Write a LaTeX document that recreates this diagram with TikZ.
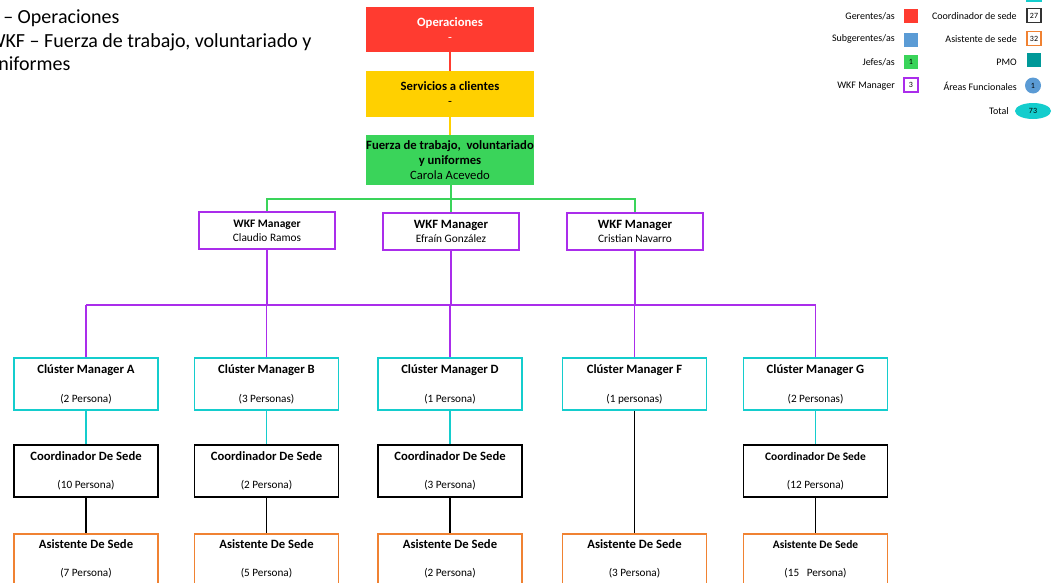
\documentclass[tikz,border=0pt]{standalone}
\usepackage{fontspec}
\setmainfont{Carlito}
\usetikzlibrary{positioning,
        shapes.geometric}
\definecolor{opsred}{RGB}{255,59,48}
\definecolor{svcyellow}{RGB}{255,208,0}
\definecolor{wkfgreen}{RGB}{58,212,90}
\definecolor{mgrpurple}{RGB}{170,45,235}
\definecolor{clcyan}{RGB}{20,205,205}
\definecolor{asorange}{RGB}{240,130,50}
\definecolor{subblue}{RGB}{91,155,213}
\definecolor{pmoteal}{RGB}{0,153,153}
\newcommand{\boxtitle}[1]{{\fontsize{9.5}{11}\selectfont\bfseries #1}}
\newcommand{\smalltitle}[1]{{\fontsize{8.6}{11}\selectfont\bfseries #1}}

\begin{document}
\begin{tikzpicture}[x=0.75pt, y=-0.75pt,
    topbox/.style={rectangle, minimum width=126pt, inner xsep=0pt, align=center, font=\fontsize{9.5}{11.25}\selectfont\bfseries},
    mgrbox/.style={rectangle, draw=mgrpurple, line width=1.1pt, fill=white, minimum width=102pt, minimum height=28pt, align=center, font=\fontsize{8.5}{10.5}\selectfont},
    unitbox/.style={rectangle, line width=1.1pt, fill=white, minimum width=108pt, minimum height=39pt, align=center, font=\fontsize{8.4}{11}\selectfont},
    clusterbox/.style={unitbox, draw=clcyan},
    coordbox/.style={unitbox, draw=black},
    asistbox/.style={unitbox, draw=asorange, minimum height=37.5pt},
    link/.style={line width=1.1pt},
    note/.style={anchor=base west, inner sep=0pt, font=\fontsize{15}{17.5}\selectfont},
    legtext/.style={anchor=east, inner sep=0pt, font=\fontsize{7.5}{9}\selectfont},
    legbox/.style={rectangle, minimum size=10.5pt, inner sep=0pt, line width=0.9pt, font=\fontsize{6}{7}\selectfont}]
    \useasboundingbox (0,0) rectangle (1052,582);
    \clip (0,0) rectangle (1052,582);

    % notes top left
    \node [note] (noteOps) at (3,23) {– Operaciones};
    \node [note] (noteWkf) at (-12.5,47) {WKF – Fuerza de trabajo, voluntariado y};
    \node [note] (noteUni) at (-12.5,70) {uniformes};

    % top of the chart
    \node [topbox, fill=opsred, text=white, minimum height=34pt] (ops) at (450,29.5) {Operaciones\\{\mdseries -}};
    \node [topbox, fill=svcyellow, minimum height=34.5pt] (svc) at (450,94) {Servicios a clientes\\{\mdseries -}};
    \node [topbox, fill=wkfgreen, minimum height=37.5pt] (wkf) at (450,160) {Fuerza de trabajo,~ voluntariado\\y uniformes\\{\mdseries Carola Acevedo}};

    % WKF managers
    \node [mgrbox] (ramos) at (267,230.5) {\smalltitle{WKF Manager}\\Claudio Ramos};
    \node [mgrbox] (gonzalez) at (451,231.5) {\boxtitle{WKF Manager}\\Efraín González};
    \node [mgrbox] (navarro) at (635,231.5) {\boxtitle{WKF Manager}\\Cristian Navarro};

    % cluster managers
    \node [clusterbox] (clA) at (86,384) {\boxtitle{Clúster Manager A}\\[10.75pt](2 Persona)};
    \node [clusterbox] (clB) at (266.5,384) {\boxtitle{Clúster Manager B}\\[10.75pt](3 Personas)};
    \node [clusterbox] (clD) at (450,384) {\boxtitle{Clúster Manager D}\\[10.75pt](1 Persona)};
    \node [clusterbox] (clF) at (634.5,384) {\boxtitle{Clúster Manager F}\\[10.75pt](1 personas)};
    \node [clusterbox] (clG) at (815.5,384) {\boxtitle{Clúster Manager G}\\[10.75pt](2 Personas)};

    % coordinators
    \node [coordbox] (coA) at (86,471) {\boxtitle{Coordinador De Sede}\\[10pt](10 Persona)};
    \node [coordbox] (coB) at (266.5,471) {\boxtitle{Coordinador De Sede}\\[10pt](2 Persona)};
    \node [coordbox] (coD) at (450,471) {\boxtitle{Coordinador De Sede}\\[10pt](3 Persona)};
    \node [coordbox] (coG) at (815.5,471) {\smalltitle{Coordinador De Sede}\\[10pt](12 Persona)};

    % assistants
    \node [asistbox] (asA) at (86,559) {\boxtitle{Asistente De Sede}\\[10pt](7 Persona)};
    \node [asistbox] (asB) at (266.5,559) {\boxtitle{Asistente De Sede}\\[10pt](5 Persona)};
    \node [asistbox] (asD) at (450,559) {\boxtitle{Asistente De Sede}\\[10pt](2 Persona)};
    \node [asistbox] (asF) at (634.5,559) {\boxtitle{Asistente De Sede}\\[10pt](3 Persona)};
    \node [asistbox] (asG) at (815.5,559) {\smalltitle{Asistente De Sede}\\[10pt](15~~ Persona)};

    % connectors
    \coordinate (gbus) at (451,199);
    \coordinate (pbus) at (451,305);
    \draw [link, opsred] (ops) -- (svc);
    \draw [link, svcyellow] (svc) -- (wkf);
    \draw [link, wkfgreen] (wkf.south -| gbus) -- (gbus);
    \draw [link, wkfgreen] (ramos) |- (gbus) -| (navarro);
    \draw [link, wkfgreen] (gbus) -- (gonzalez);
    \draw [link, mgrpurple] (ramos) -- (ramos |- pbus);
    \draw [link, mgrpurple] (gonzalez) -- (gonzalez |- pbus);
    \draw [link, mgrpurple] (navarro) -- (navarro |- pbus);
    \draw [link, mgrpurple] (clA |- pbus) -- (clG |- pbus);
    \draw [link, mgrpurple] (clA |- pbus) -- (clA);
    \draw [link, mgrpurple] (clB |- pbus) -- (clB);
    \draw [link, mgrpurple] (clD |- pbus) -- (clD);
    \draw [link, mgrpurple] (clF |- pbus) -- (clF);
    \draw [link, mgrpurple] (clG |- pbus) -- (clG);
    \draw [link, clcyan] (clA) -- (coA);
    \draw [link, clcyan] (clB) -- (coB);
    \draw [link, clcyan] (clD) -- (coD);
    \draw [link, clcyan] (clG) -- (coG);
    \draw [link] (coA) -- (asA);
    \draw [link] (coB) -- (asB);
    \draw [link] (coD) -- (asD);
    \draw [link] (clF) -- (asF);
    \draw [link] (coG) -- (asG);

    % legend
    \node [legtext] (lgGer) at (895,16) {Gerentes/as};
    \node [legbox, fill=opsred] (lgGerKey) at (911,16) {};
    \node [legtext] (lgSub) at (895,39) {Subgerentes/as};
    \node [legbox, fill=subblue] (lgSubKey) at (911,40) {};
    \node [legtext] (lgJef) at (895,62) {Jefes/as};
    \node [legbox, fill=wkfgreen] (lgJefKey) at (911,62) {1};
    \node [legtext] (lgMgr) at (895,86) {WKF Manager};
    \node [legbox, draw=mgrpurple, fill=white] (lgMgrKey) at (911,85) {3};
    \node [legtext] (lgCoo) at (1017,16) {Coordinador de sede};
    \node [legbox, draw=black!80] (lgCooKey) at (1034,15.5) {27};
    \node [legtext] (lgAsi) at (1017,39) {Asistente de sede};
    \node [legbox, draw=asorange] (lgAsiKey) at (1034,38.5) {32};
    \node [legtext] (lgPmo) at (1017,62) {PMO};
    \node [legbox, fill=pmoteal] (lgPmoKey) at (1034,60) {};
    \node [legtext] (lgAre) at (1017,86) {Áreas Funcionales};
    \node [circle, fill=subblue, minimum size=12pt, inner sep=0pt, font=\fontsize{6}{7}\selectfont] (lgAreKey) at (1033,85.5) {1};
    \node [legtext] (lgTot) at (1009,111) {Total};
    \node [ellipse, fill=clcyan, minimum width=27pt, minimum height=12pt, inner sep=0pt, font=\fontsize{6}{7}\selectfont] (lgTotKey) at (1033,111) {73};
    \node [legbox, draw=clcyan] (lgClKey) at (1034,-6) {};
\end{tikzpicture}
\end{document}
